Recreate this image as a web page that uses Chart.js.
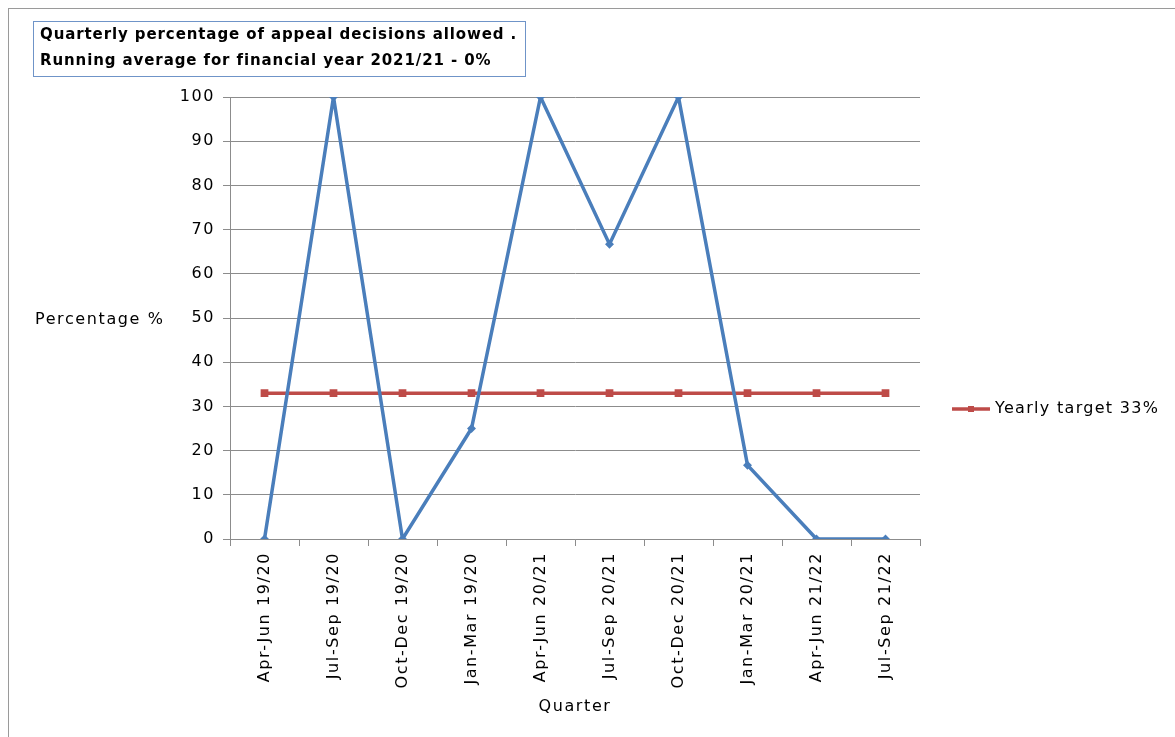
<!DOCTYPE html>
<html>
<head>
<meta charset="utf-8">
<script src="https://cdn.jsdelivr.net/npm/chart.js@4.4.1/dist/chart.umd.min.js"></script>
<style>
  html, body { margin: 0; padding: 0; background: #ffffff; }
  canvas { display: block; }
</style>
</head>
<body>
<canvas id="chart" width="1175" height="737"></canvas>
<script>
// Quarters on the horizontal axis
const quarters = [
  'Apr-Jun 19/20', 'Jul-Sep 19/20', 'Oct-Dec 19/20', 'Jan-Mar 19/20',
  'Apr-Jun 20/21', 'Jul-Sep 20/21', 'Oct-Dec 20/21', 'Jan-Mar 20/21',
  'Apr-Jun 21/22', 'Jul-Sep 21/22'
];
// Percentage of appeal decisions allowed per quarter
const allowedPct = [0, 100, 0, 25, 100, 66.7, 100, 16.7, 0, 0];
// Yearly target line
const targetPct = [33, 33, 33, 33, 33, 33, 33, 33, 33, 33];
const targetLabel = 'Yearly target 33%';
const titleLines = [
  'Quarterly percentage of appeal decisions allowed .',
  'Running average for financial year 2021/21 - 0%'
];
const yTicks = [0, 10, 20, 30, 40, 50, 60, 70, 80, 90, 100];

const FONT = '"DejaVu Sans", "Liberation Sans", sans-serif';
const BLUE = '#4a7ebb';
const RED = '#be4b48';
const GRID = '#8c8c8c';

// Frame, boxed title, axis titles and the legend entry
const decorations = {
  id: 'decorations',
  beforeDraw(chart) {
    const ctx = chart.ctx;
    ctx.save();
    ctx.fillStyle = '#ffffff';
    ctx.fillRect(0, 0, chart.width, chart.height);
    ctx.strokeStyle = '#9a9a9a';
    ctx.lineWidth = 1;
    ctx.strokeRect(8.5, 8.5, chart.width + 20, chart.height + 20);
    ctx.restore();
    // slightly wider letter spacing for all chart text
    ctx.letterSpacing = '1.6px';
  },
  afterDraw(chart) {
    const ctx = chart.ctx;
    const area = chart.chartArea;
    ctx.save();
    // Title box
    ctx.strokeStyle = '#6f94c8';
    ctx.lineWidth = 1;
    ctx.strokeRect(33.5, 21.5, 492, 55);
    ctx.fillStyle = '#000000';
    ctx.letterSpacing = '0.9px';
    ctx.font = 'bold 15px ' + FONT;
    ctx.textBaseline = 'middle';
    ctx.textAlign = 'left';
    ctx.fillText(titleLines[0], 40, 35);
    ctx.fillText(titleLines[1], 40, 61);

    // Y axis title (horizontal)
    ctx.letterSpacing = '1.6px';
    ctx.font = '16px ' + FONT;
    ctx.fillText('Percentage %', 35, 320);

    // X axis title
    ctx.textAlign = 'center';
    ctx.fillText('Quarter', (area.left + area.right) / 2, 707);

    // Legend entry for the target series
    const ly = 409;
    ctx.strokeStyle = RED;
    ctx.lineWidth = 3.5;
    ctx.beginPath();
    ctx.moveTo(952, ly);
    ctx.lineTo(990, ly);
    ctx.stroke();
    ctx.fillStyle = RED;
    ctx.fillRect(968, ly - 3, 6, 6);
    ctx.fillStyle = '#000000';
    ctx.textAlign = 'left';
    ctx.letterSpacing = '1.3px';
    ctx.fillText(targetLabel, 995, ly);
    ctx.restore();
  }
};

new Chart(document.getElementById('chart'), {
  type: 'line',
  data: {
    labels: quarters,
    datasets: [
      {
        label: 'Allowed %',
        data: allowedPct,
        borderColor: BLUE,
        backgroundColor: BLUE,
        borderWidth: 3.5,
        pointStyle: 'rectRot',
        pointRadius: 2,
        pointHoverRadius: 2,
        tension: 0
      },
      {
        label: targetLabel,
        data: targetPct,
        borderColor: RED,
        backgroundColor: RED,
        borderWidth: 3.5,
        pointStyle: 'rect',
        pointRadius: 3,
        pointHoverRadius: 3,
        tension: 0
      }
    ]
  },
  options: {
    responsive: false,
    animation: false,
    devicePixelRatio: 1,
    layout: { padding: { top: 97, right: 255, bottom: 0, left: 0 } },
    plugins: {
      legend: { display: false },
      title: { display: false },
      tooltip: { enabled: false }
    },
    scales: {
      x: {
        offset: true,
        grid: {
          offset: true,
          drawOnChartArea: false,
          drawTicks: true,
          tickLength: 7,
          color: GRID
        },
        border: { color: GRID, width: 1 },
        ticks: {
          color: '#000000',
          font: { family: FONT, size: 16 },
          minRotation: 90,
          maxRotation: 90,
          padding: 6,
          autoSkip: false
        },
        afterFit(scale) { scale.height = 198; }
      },
      y: {
        min: 0,
        max: 100,
        afterBuildTicks(scale) { scale.ticks = yTicks.map(v => ({ value: v })); },
        grid: {
          color: GRID,
          drawTicks: true,
          tickLength: 7
        },
        border: { color: GRID, width: 1 },
        ticks: {
          color: '#000000',
          font: { family: FONT, size: 16 },
          padding: 8
        },
        afterFit(scale) { scale.width = 230; }
      }
    }
  },
  plugins: [decorations]
});
</script>
</body>
</html>
